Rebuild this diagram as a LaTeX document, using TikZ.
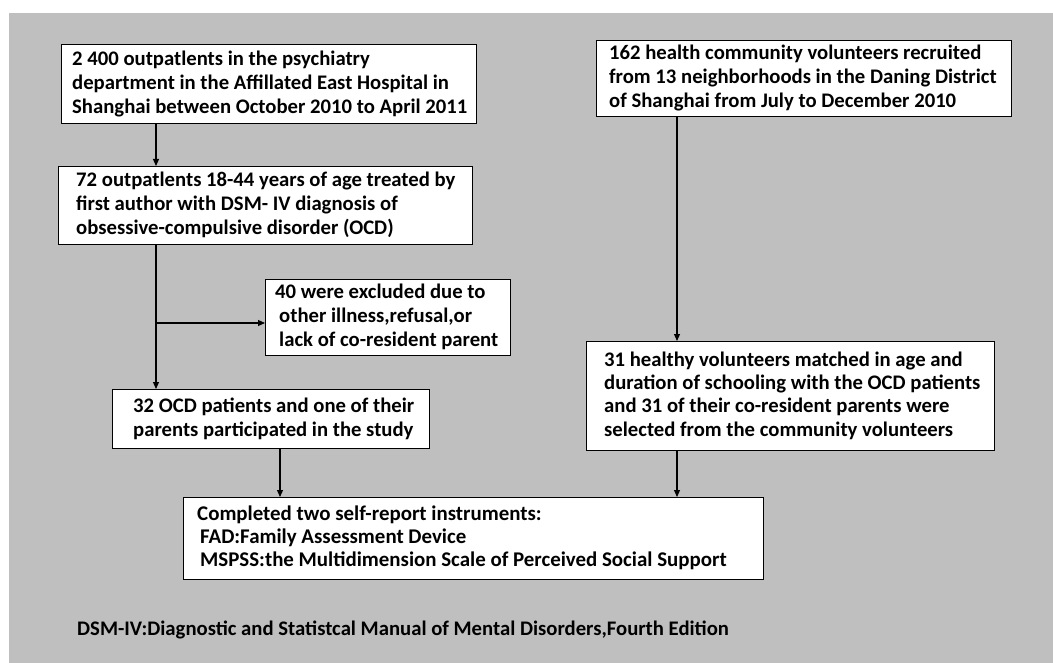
\documentclass[tikz,border=0pt]{standalone}
\usepackage{fontspec}
\setmainfont{Carlito}
\usetikzlibrary{arrows.meta}
\definecolor{bggray}{RGB}{191,191,191}
\tikzset{
  box/.style={draw=black, line width=1.4pt, fill=white, anchor=north west, inner sep=0pt},
  txt/.style={font=\bfseries\fontsize{20.7}{24}\selectfont, align=left, anchor=west, inner sep=0pt},
  arr/.style={line width=1.1pt, -{Triangle[length=7pt,width=6pt]}}
}
\begin{document}
\begin{tikzpicture}[x=1pt,y=-1pt]
\useasboundingbox (0,0) rectangle (1053,663);
\fill[bggray] (9,13) rectangle (1053,663);
% boxes
\node[box, minimum width=415pt, minimum height=79pt] (b1) at (61,44) {};
\node[txt] (t1) at (72,83.5)
 {2 400 outpatlents in the psychiatry\\department in the Affillated East Hospital in\\Shanghai between October 2010 to April 2011};
\node[box, minimum width=415pt, minimum height=76pt] (r1) at (596,40) {};
\node[txt] (tr1) at (609,78)
 {162 health community volunteers recruited\\from 13 neighborhoods in the Daning District\\of Shanghai from July to December 2010};
\node[box, minimum width=414pt, minimum height=78pt] (b2) at (58,166) {};
\node[txt] (t2) at (76,205)
 {72 outpatlents 18-44 years of age treated by\\first author with DSM- IV diagnosis of\\obsessive-compulsive disorder (OCD)};
\node[box, minimum width=245pt, minimum height=76pt] (b3) at (265,279) {};
\node[txt] (t3) at (275,317)
 {40 were excluded due to\\\hspace{4pt}other illness,refusal,or\\\hspace{4pt}lack of co-resident parent};
\node[box, minimum width=317pt, minimum height=59pt] (b4) at (112,389) {};
\node[txt] (t4) at (133,418.5)
 {32 OCD patients and one of their\\parents participated in the study};
\node[box, minimum width=408pt, minimum height=109pt] (b6) at (586,341) {};
\node[txt, font=\bfseries\fontsize{20.7}{23.3}\selectfont] (t6) at (604,395.5)
 {31 healthy volunteers matched in age and\\duration of schooling with the OCD patients\\and 31 of their co-resident parents were\\selected from the community volunteers};
\node[box, minimum width=580pt, minimum height=82pt] (b5) at (183,497) {};
\node[txt, font=\bfseries\fontsize{20.9}{23}\selectfont] (t5) at (197,538)
 {Completed two self-report instruments:\\\hspace{3pt}FAD:Family Assessment Device\\\hspace{3pt}MSPSS:the Multidimension Scale of Perceived Social Support};
\node[txt] (fn) at (77,630)
 {DSM-IV:Diagnostic and Statistcal Manual of Mental Disorders,Fourth Edition};
% connectors
\coordinate (xl) at (156,0);
\coordinate (xm) at (280,0);
\coordinate (xr) at (677,0);
\coordinate (br) at (156,323);
\draw[arr] (b1.south -| xl) -- (b2.north -| xl);
\draw[arr] (b2.south -| xl) -- (b4.north -| xl);
\draw[arr] (br) -- (b3.west |- br);
\draw[arr] (r1.south -| xr) -- (b6.north -| xr);
\draw[arr] (b4.south -| xm) -- (b5.north -| xm);
\draw[arr] (b6.south -| xr) -- (b5.north -| xr);
\end{tikzpicture}
\end{document}
